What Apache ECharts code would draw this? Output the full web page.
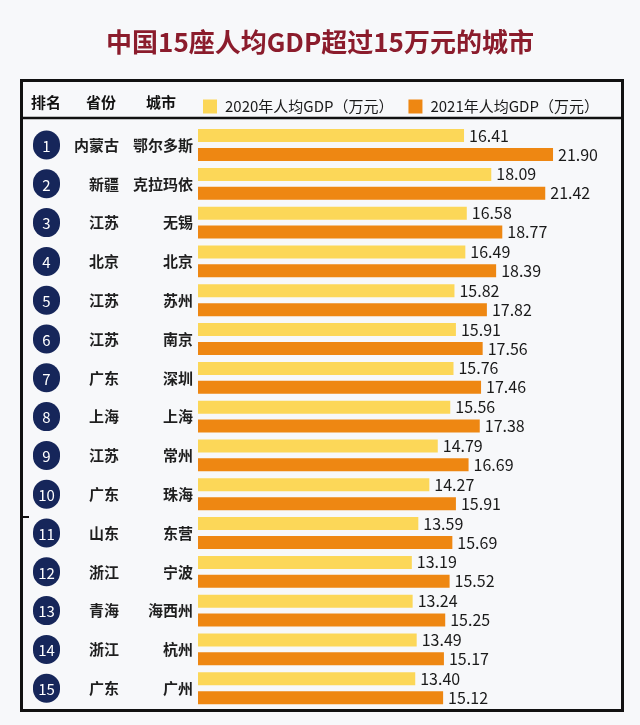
<!DOCTYPE html>
<html>
<head>
<meta charset="utf-8">
<script src="https://cdn.jsdelivr.net/npm/echarts@6/dist/echarts.min.js"></script>
<style>html,body{margin:0;padding:0;background:#f7f8fa;}#c{width:640px;height:725px;}</style>
</head>
<body>
<div id="c"></div>
<script>
const ranks = ['1','2','3','4','5','6','7','8','9','10','11','12','13','14','15'];
const provinces = ['内蒙古','新疆','江苏','北京','江苏','江苏','广东','上海','江苏','广东','山东','浙江','青海','浙江','广东'];
const cities = ['鄂尔多斯','克拉玛依','无锡','北京','苏州','南京','深圳','上海','常州','珠海','东营','宁波','海西州','杭州','广州'];
const gdp2020 = [16.41,18.09,16.58,16.49,15.82,15.91,15.76,15.56,14.79,14.27,13.59,13.19,13.24,13.49,13.40];
const gdp2021 = [21.90,21.42,18.77,18.39,17.82,17.56,17.46,17.38,16.69,15.91,15.69,15.52,15.25,15.17,15.12];
const seriesNames = ['2020年人均GDP（万元）','2021年人均GDP（万元）'];
const headers = ['排名','省份','城市'];
const titleText = '中国15座人均GDP超过15万元的城市';

const FONT = '"Noto Sans CJK SC", "Noto Sans", sans-serif';
const chart = echarts.init(document.getElementById('c'), null, {renderer:'canvas'});

const rowLabel = {fontFamily: FONT, fontSize: 15, color: '#1e1e1e', fontWeight: 'bold', padding: [4,0,0,0]};

const option = {
  backgroundColor: '#f7f8fa',
  animation: false,
  title: {
    text: titleText, left: 'center', top: 24,
    textStyle: {fontFamily: FONT, fontSize: 26, fontWeight: 'bold', color: '#8b1c2c'}
  },
  legend: {
    data: seriesNames, left: 198, top: 94, icon: 'rect', itemWidth: 14, itemHeight: 14, itemGap: 15,
    textStyle: {fontFamily: FONT, fontSize: 15, color: '#1a1a1a', padding: [0,0,0,3]}
  },
  grid: {left: 198, top: 125.6, width: 421.5, height: 582, containLabel: false},
  xAxis: {type: 'value', min: 0, max: 26, show: false},
  yAxis: [
    {type: 'category', data: ranks, inverse: true, axisLine: {show:false}, axisTick: {show:false},
     axisLabel: Object.assign({margin: 5, formatter: (v, i) => cities[i]}, rowLabel)},
    {type: 'category', data: ranks, inverse: true, position: 'left', offset: 74, axisLine: {show:false}, axisTick: {show:false},
     axisLabel: Object.assign({margin: 5, formatter: (v, i) => provinces[i]}, rowLabel)},
    {type: 'category', data: ranks, inverse: true, position: 'left', offset: 133, axisLine: {show:false}, axisTick: {show:false},
     axisLabel: {margin: 5, formatter: (v) => '{c|' + v + '}',
       rich: {c: {width: 27, height: 27, lineHeight: 27, borderRadius: 14, backgroundColor: '#16265a',
                  color: '#ffffff', align: 'center', fontFamily: FONT, fontSize: 15, padding: [2,0,0,0]}}}}
  ],
  series: [
    {name: seriesNames[0], type: 'bar', data: gdp2020, barWidth: 13, barGap: '45%',
     itemStyle: {color: '#fcd758'},
     label: {show: true, position: 'right', distance: 5, formatter: p => p.value.toFixed(2),
             fontFamily: FONT, fontSize: 16, color: '#1a1a1a'}},
    {name: seriesNames[1], type: 'bar', data: gdp2021, barWidth: 13,
     itemStyle: {color: '#ee8712'},
     label: {show: true, position: 'right', distance: 5, formatter: p => p.value.toFixed(2),
             fontFamily: FONT, fontSize: 16, color: '#1a1a1a'}}
  ],
  graphic: [
    {type: 'rect', shape: {x: 21.5, y: 80.5, width: 601, height: 630}, style: {fill: null, stroke: '#111', lineWidth: 3}},
    {type: 'line', shape: {x1: 21, y1: 118, x2: 623, y2: 118}, style: {stroke: '#111', lineWidth: 2.5}},
    {type: 'line', shape: {x1: 21, y1: 517, x2: 29, y2: 517}, style: {stroke: '#111', lineWidth: 2}},
    {type: 'text', x: 46, y: 102, style: {text: headers[0], align: 'center', verticalAlign: 'middle', font: 'bold 15px ' + FONT, fill: '#111'}},
    {type: 'text', x: 101, y: 102, style: {text: headers[1], align: 'center', verticalAlign: 'middle', font: 'bold 15px ' + FONT, fill: '#111'}},
    {type: 'text', x: 161, y: 102, style: {text: headers[2], align: 'center', verticalAlign: 'middle', font: 'bold 15px ' + FONT, fill: '#111'}}
  ]
};
chart.setOption(option);
</script>
</body>
</html>
